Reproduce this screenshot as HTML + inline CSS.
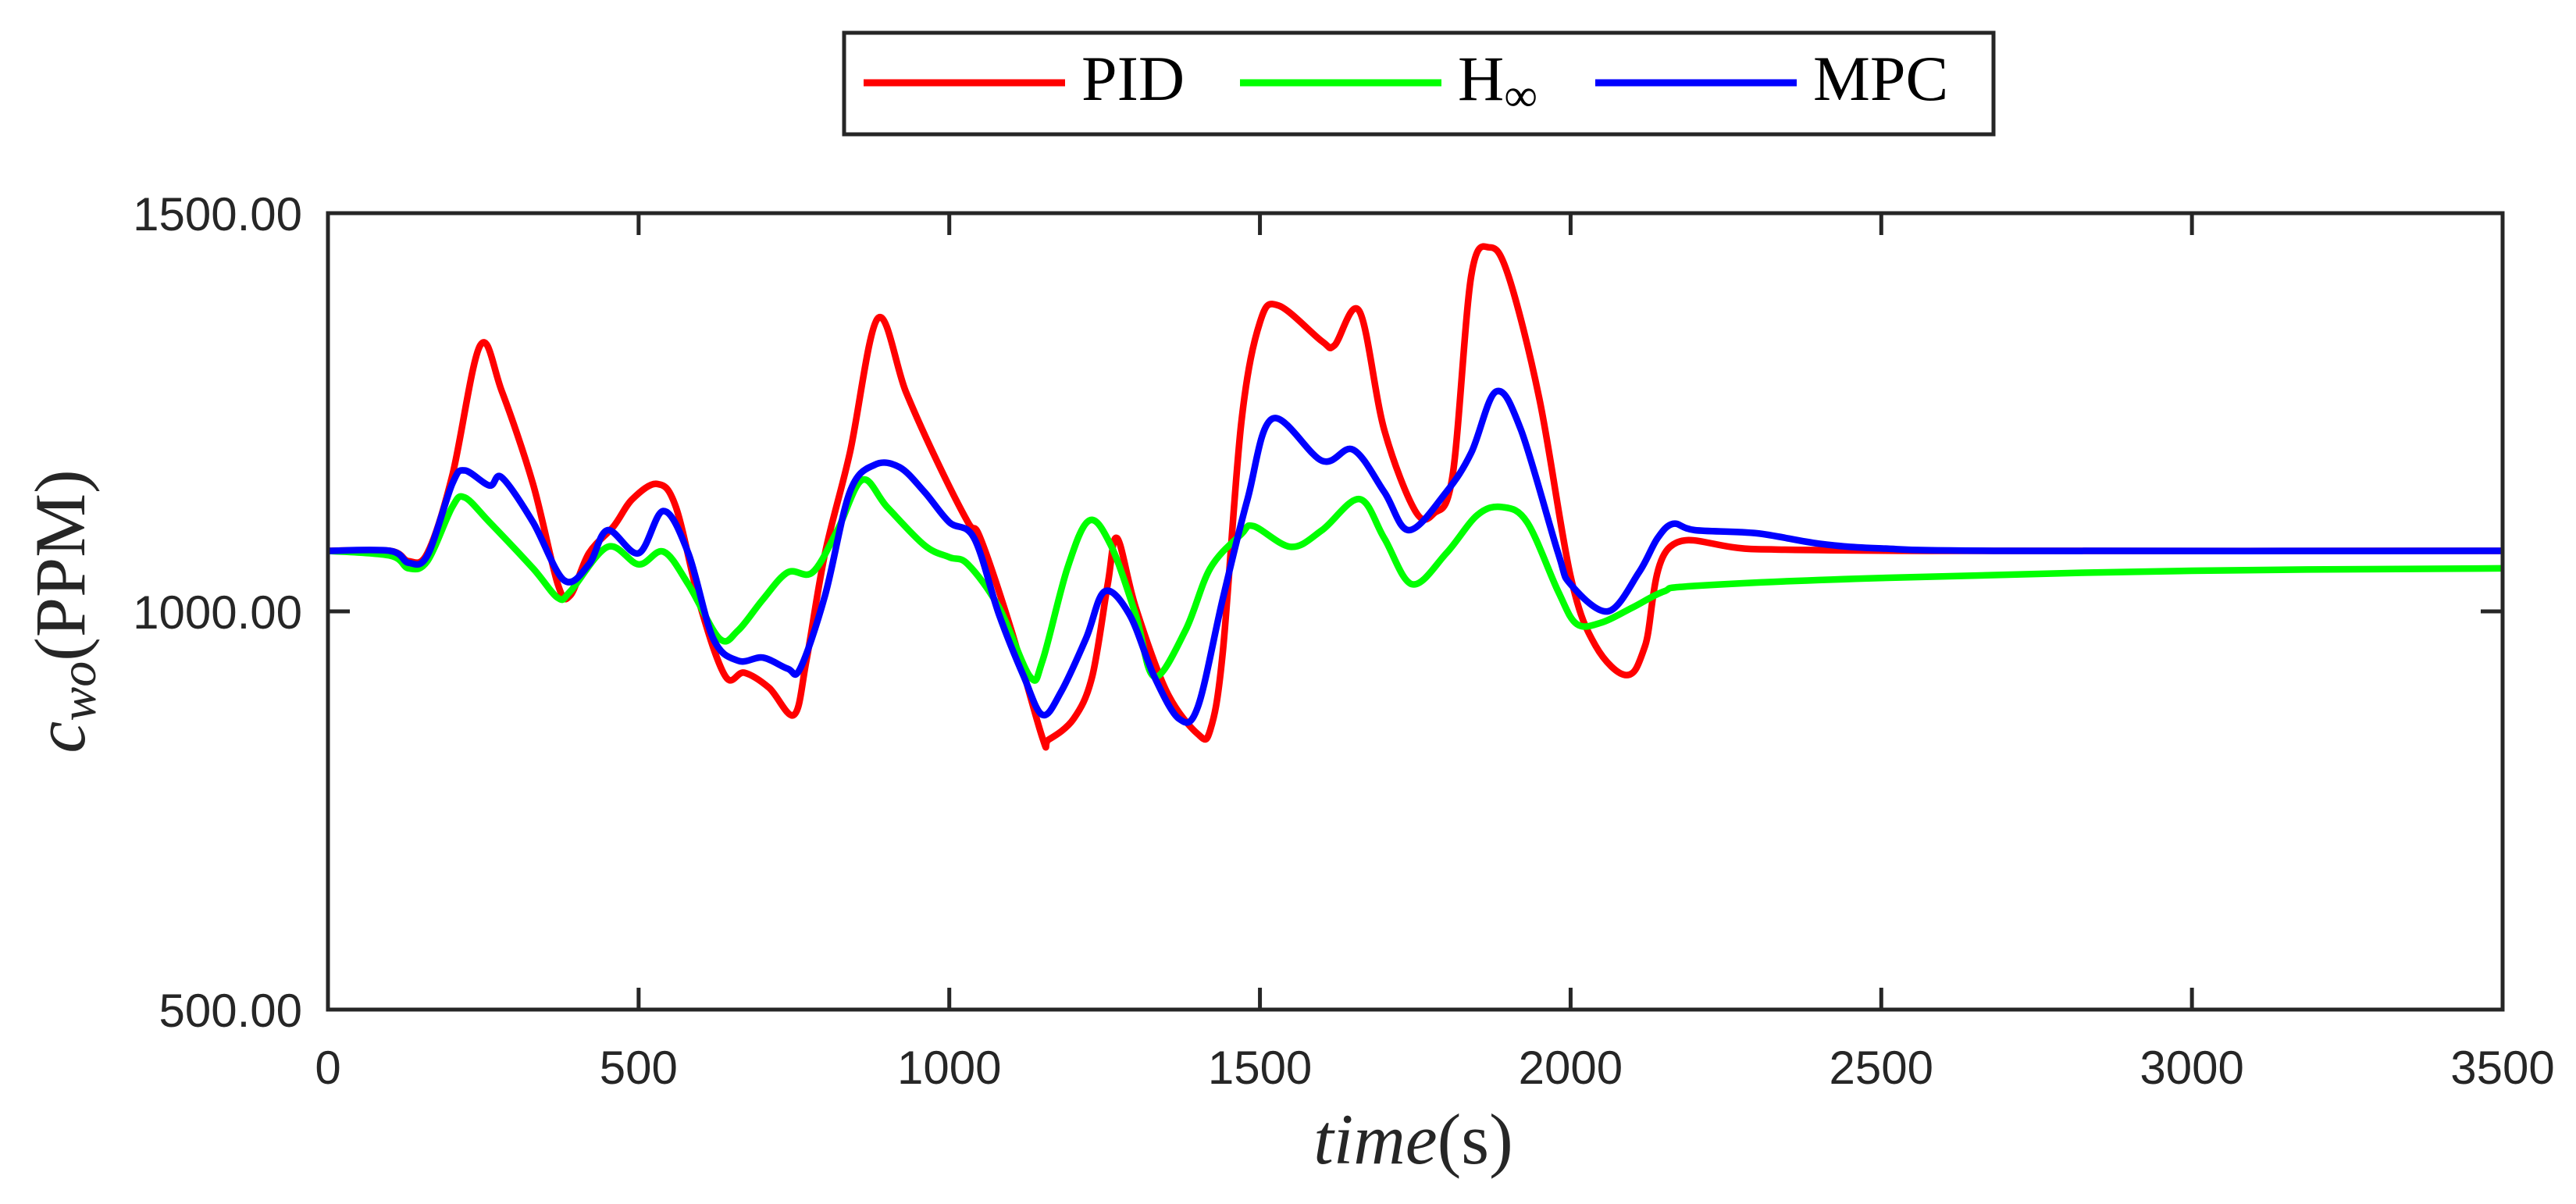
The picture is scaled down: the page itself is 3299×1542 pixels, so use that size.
<!DOCTYPE html>
<html><head><meta charset="utf-8"><style>
html,body{margin:0;padding:0;background:#fff;}
svg{display:block;}
</style></head><body>
<svg id="chart" width="3299" height="1542" viewBox="0 0 3299 1542" xmlns="http://www.w3.org/2000/svg">
<rect x="0" y="0" width="3299" height="1542" fill="#fff"/>
<g id="plot"></g>
<g id="axes"></g>
<g>
<rect x="1081" y="42" width="1472" height="130" fill="#fff" stroke="#262626" stroke-width="5"/>
<g>
<line x1="1106" y1="106" x2="1364" y2="106" stroke="#ff0000" stroke-width="9"/>
<text x="1385" y="128" font-family="Liberation Serif, serif" font-size="82" fill="#000">PID</text>
</g>
<g>
<line x1="1588" y1="106" x2="1846" y2="106" stroke="#00ff00" stroke-width="9"/>
<text x="1867" y="128" font-family="Liberation Serif, serif" font-size="82" fill="#000">H<tspan font-size="60" dy="14">∞</tspan></text>
</g>
<g>
<line x1="2043" y1="106" x2="2301" y2="106" stroke="#0000ff" stroke-width="9"/>
<text x="2322" y="128" font-family="Liberation Serif, serif" font-size="82" fill="#000">MPC</text>
</g>
</g>
<text x="1810" y="1490" text-anchor="middle" font-family="Liberation Serif, serif" font-size="92" fill="#262626"><tspan font-style="italic">time</tspan>(s)</text>
<text transform="translate(108,783) rotate(-90)" text-anchor="middle" font-family="Liberation Serif, serif" font-size="92" fill="#262626"><tspan font-style="italic">c</tspan><tspan font-style="italic" font-size="66" dy="14">wo</tspan><tspan dy="-14">(PPM)</tspan></text>
</svg>
<script>
const xTicks=[0,500,1000,1500,2000,2500,3000,3500];
const yTicks=[500,1000,1500];
const yTickLabels=["500.00","1000.00","1500.00"];
const pidT=[0,100,130,160,200,245,280,330,370,390,420,460,490,530,560,600,640,670,710,750,770,800,840,885,930,980,1030,1050,1100,1150,1160,1200,1230,1255,1270,1300,1350,1400,1420,1440,1470,1500,1530,1600,1620,1660,1700,1750,1780,1810,1840,1870,1900,1950,2000,2040,2090,2120,2160,2300,2600,3500];
const pidV=[1076,1076,1063,1073,1170,1334,1276,1160,1034,1020,1073,1107,1141,1160,1131,1005,918,923,904,870,938,1073,1199,1368,1276,1189,1112,1092,976,841,839,865,918,1034,1092,1005,899,846,851,947,1237,1363,1384,1339,1334,1377,1228,1126,1123,1170,1421,1457,1421,1266,1044,957,920,957,1081,1078,1076,1076];
const hinfT=[0,100,130,160,200,220,260,330,370,390,450,500,540,580,630,660,700,740,780,820,860,900,960,1000,1030,1080,1130,1150,1190,1225,1260,1300,1330,1380,1420,1470,1490,1550,1600,1660,1700,1745,1800,1850,1890,1930,1980,2010,2050,2100,2150,2200,2500,3000,3500];
const hinfV=[1076,1070,1054,1063,1131,1143,1112,1054,1017,1025,1081,1059,1075,1034,966,976,1015,1049,1049,1102,1165,1131,1083,1068,1059,1005,918,938,1054,1114,1083,996,918,976,1054,1097,1107,1081,1102,1141,1092,1034,1073,1121,1131,1112,1025,984,986,1005,1025,1032,1042,1051,1054];
const mpcT=[0,100,130,160,200,220,260,280,330,380,420,450,500,540,580,620,660,700,740,760,800,840,880,920,960,1000,1040,1080,1120,1150,1180,1220,1250,1290,1330,1370,1400,1440,1480,1520,1600,1650,1700,1740,1800,1840,1880,1920,1980,2000,2060,2110,2140,2165,2200,2300,2400,2500,2700,3500];
const mpcV=[1076,1076,1061,1070,1160,1177,1158,1168,1112,1039,1059,1102,1073,1126,1073,966,938,942,928,928,1020,1150,1184,1181,1150,1112,1092,996,918,870,899,966,1025,996,918,865,880,1015,1141,1242,1189,1203,1150,1102,1150,1199,1276,1228,1073,1034,1000,1049,1092,1110,1102,1098,1085,1079,1076,1076];

const L=420,R=3205,T=273,B=1293;
const xs=v=>L+(v-0)/(3500-0)*(R-L);
const ys=v=>B-(v-500)/(1500-500)*(B-T);
const NS='http://www.w3.org/2000/svg';
const plot=document.getElementById('plot'), axes=document.getElementById('axes');
function mk(tag,attrs,parent){const e=document.createElementNS(NS,tag);for(const k in attrs)e.setAttribute(k,attrs[k]);parent.appendChild(e);return e;}
function pathFor(T_,V_){
  const p=T_.map((t,i)=>[xs(t),ys(V_[i])]);
  let d='M'+p[0][0].toFixed(1)+','+p[0][1].toFixed(1);
  for(let i=0;i<p.length-1;i++){
    const p0=p[Math.max(0,i-1)],p1=p[i],p2=p[i+1],p3=p[Math.min(p.length-1,i+2)];
    const c1x=p1[0]+(p2[0]-p0[0])/6,c1y=p1[1]+(p2[1]-p0[1])/6;
    const c2x=p2[0]-(p3[0]-p1[0])/6,c2y=p2[1]-(p3[1]-p1[1])/6;
    d+=' C'+c1x.toFixed(1)+','+c1y.toFixed(1)+' '+c2x.toFixed(1)+','+c2y.toFixed(1)+' '+p2[0].toFixed(1)+','+p2[1].toFixed(1);
  }
  return d;
}
const series=[['pid',pidT,pidV,'#ff0000'],['hinf',hinfT,hinfV,'#00ff00'],['mpc',mpcT,mpcV,'#0000ff']];
series.forEach(s=>{
  const e=mk('path',{d:pathFor(s[1],s[2]),fill:'none',stroke:s[3],'stroke-width':8.5,'stroke-linejoin':'round'},plot);
  
  
});
const box=mk('rect',{x:L,y:T,width:R-L,height:B-T,fill:'none',stroke:'#262626','stroke-width':5},axes);


xTicks.forEach(v=>{
  const x=xs(v);
  const t1=mk('line',{x1:x,y1:B,x2:x,y2:B-28,stroke:'#262626','stroke-width':5},axes);
  
  
  const t2=mk('line',{x1:x,y1:T,x2:x,y2:T+28,stroke:'#262626','stroke-width':5},axes);
  
  
  const lb=mk('text',{x:x,y:1388,'text-anchor':'middle','font-family':'Liberation Sans, sans-serif','font-size':60,fill:'#262626'},axes);
  lb.textContent=String(v);
  
  
});
yTicks.forEach((v,i)=>{
  const y=ys(v);
  const t1=mk('line',{x1:L,y1:y,x2:L+28,y2:y,stroke:'#262626','stroke-width':5},axes);
  
  
  const t2=mk('line',{x1:R,y1:y,x2:R-28,y2:y,stroke:'#262626','stroke-width':5},axes);
  
  
  const lb=mk('text',{x:387,y:y+22,'text-anchor':'end','font-family':'Liberation Sans, sans-serif','font-size':60,fill:'#262626'},axes);
  lb.textContent=yTickLabels[i];
  
  
});
</script>
</body></html>
